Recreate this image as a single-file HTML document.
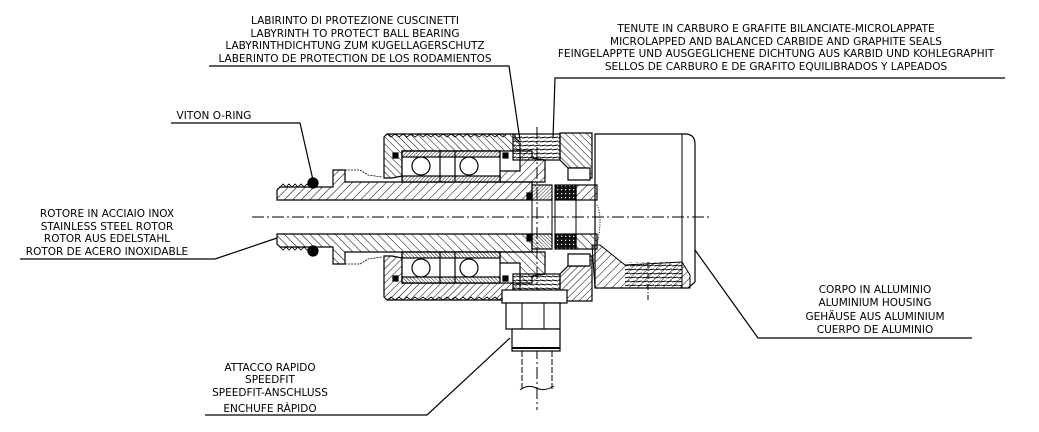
<!DOCTYPE html>
<html><head><meta charset="utf-8"><style>
html,body{margin:0;padding:0;background:#fff;}
svg{display:block;}
text{font-family:"DejaVu Sans","Liberation Sans",sans-serif;font-size:10.5px;fill:#000;text-anchor:middle;}
</style></head><body>
<svg width="1039" height="432" viewBox="0 0 1039 432" xmlns="http://www.w3.org/2000/svg">
<defs>
<pattern id="h" width="6" height="6" patternUnits="userSpaceOnUse" patternTransform="rotate(45)">
<line x1="0" y1="0" x2="0" y2="6" stroke="#000" stroke-width="1"/></pattern>
<pattern id="h2" width="5" height="5" patternUnits="userSpaceOnUse" patternTransform="rotate(-45)">
<line x1="0" y1="0" x2="0" y2="5" stroke="#000" stroke-width="1"/></pattern>
<pattern id="hd" width="2.5" height="2.5" patternUnits="userSpaceOnUse" patternTransform="rotate(45)">
<line x1="0" y1="0" x2="0" y2="2.5" stroke="#000" stroke-width="0.9"/></pattern>
<pattern id="gr" width="4" height="4" patternUnits="userSpaceOnUse">
<rect width="4" height="4" fill="#111"/><rect x="1" y="1" width="1.2" height="1.2" fill="#fff"/></pattern>
<pattern id="th" width="6" height="4" patternUnits="userSpaceOnUse">
<line x1="0" y1="2" x2="6" y2="1" stroke="#000" stroke-width="0.9"/></pattern>
<g id="half" stroke="#000" stroke-width="1.2">
 <path d="M277,200 L277,190 L280,187 L333,187 L333,170 L345,170 L345,182 L532,182 L532,200 Z" fill="url(#h)"/>
 <path d="M280,187 l3,-3 l3,3 l3,-3 l3,3 l3,-3 l3,3 l3,-3 l3,3 l3,-3 l3,3" fill="none" stroke-width="0.8"/>
 <circle cx="313" cy="183" r="5" fill="#000"/>
 <path d="M345,170 L360,170 L368,175 L382,177" fill="none" stroke-dasharray="2,1" stroke-width="0.8"/>
 <path d="M384,137 L387,134 L515,134 L515,138 L520,142 L520,151 L402,151 L402,176 L392,178 L384,178 Z" fill="url(#h2)"/>
 <path d="M387,134 l4,3 l4,-3 l4,3 l4,-3 l4,3 l4,-3 l4,3 l4,-3 l4,3 l4,-3 l4,3 l4,-3 l4,3 l4,-3 l4,3 l4,-3 l4,3 l4,-3 l4,3 l4,-3 l4,3 l4,-3 l4,3 l4,-3 l4,3 l4,-3 l4,3 l4,-3 l4,3 l4,-3" fill="none" stroke-width="0.8"/>
 <rect x="513" y="134" width="47" height="26" fill="url(#th)"/>
 <path d="M560,133 L592,133 L592,178 L585,178 L585,168 L568,168 L560,160 Z" fill="url(#h2)"/>
 <path d="M520,151 L532,151 L532,158 L545,160 L545,182 L500,182 L500,171 L520,171 Z" fill="url(#h)"/>
 <rect x="402" y="151" width="98" height="31" fill="#fff"/>
 <rect x="402" y="151" width="98" height="6" fill="url(#hd)"/>
 <rect x="402" y="176" width="98" height="6" fill="url(#hd)"/>
 <line x1="440" y1="151" x2="440" y2="182"/><line x1="455" y1="151" x2="455" y2="182"/>
 <circle cx="421" cy="166" r="9" fill="#fff"/><circle cx="469" cy="166" r="9" fill="#fff"/>
 <rect x="393" y="153" width="5" height="5" fill="#000"/><rect x="503" y="153" width="5" height="5" fill="#000"/>
 <rect x="532" y="185" width="20" height="15" fill="url(#hd)"/>
 <rect x="555" y="185" width="21" height="15" fill="url(#gr)"/>
 <rect x="576" y="185" width="21" height="15" fill="url(#h)"/>
 <rect x="527" y="193" width="5" height="6" fill="#000"/>
 <path d="M568,168 L590,168 L590,180 L568,180 Z" fill="#fff"/>
</g>
</defs>

<path d="M595,134 L685,134 Q695,134 695,144 L695,282 L688,288 L595,288 Z" fill="#fff" stroke="#000" stroke-width="1.2"/>
<line x1="682" y1="134" x2="682" y2="288" stroke="#000" stroke-width="1"/>
<path d="M592,245 L600,245 L625,265 L682,262 L690,275 L690,288 L595,288 Z" fill="url(#h)" stroke="#000"/>
<rect x="625" y="262" width="57" height="24" fill="url(#th)"/>
<path d="M597,205 Q603,217 597,245" fill="none" stroke="#000" stroke-dasharray="1,1.5"/>
<line x1="648" y1="262" x2="648" y2="300" stroke="#000" stroke-dasharray="6,2,1,2"/>

<use href="#half"/>
<use href="#half" transform="translate(0,434) scale(1,-1)"/>

<line x1="532" y1="200" x2="532" y2="234" stroke="#000"/>
<line x1="552" y1="200" x2="552" y2="234" stroke="#000"/>
<line x1="555" y1="200" x2="555" y2="234" stroke="#000"/>
<line x1="576" y1="200" x2="576" y2="234" stroke="#000"/>

<line x1="252" y1="217" x2="710" y2="217" stroke="#000" stroke-dasharray="12,3,2,3"/>
<line x1="537" y1="127" x2="537" y2="410" stroke="#000" stroke-dasharray="12,3,2,3"/>

<rect x="502" y="290" width="65" height="13" fill="#fff" stroke="#000" stroke-width="1.2"/>
<rect x="506" y="303" width="54" height="26" fill="#fff" stroke="#000" stroke-width="1.2"/>
<line x1="522" y1="303" x2="522" y2="329" stroke="#000"/><line x1="544" y1="303" x2="544" y2="329" stroke="#000"/>
<rect x="512" y="329" width="48" height="22" fill="#fff" stroke="#000" stroke-width="1.2"/>
<line x1="512" y1="348" x2="560" y2="348" stroke="#000" stroke-width="2"/>
<line x1="522" y1="351" x2="522" y2="390" stroke="#000" stroke-dasharray="6,2"/>
<line x1="552" y1="351" x2="552" y2="390" stroke="#000" stroke-dasharray="6,2"/>
<path d="M520,390 q8,-6 16,-2 q8,4 18,-2" fill="none" stroke="#000"/>

<g fill="none" stroke="#000" stroke-width="1.2">
<polyline points="209,66 509,66 520,140"/>
<polyline points="1005,78 555,78 553,138"/>
<polyline points="171,123 300,123 313,180"/>
<polyline points="20,259 215,259 277,238"/>
<polyline points="205,415 427,415 510,338"/>
<polyline points="972,338 758,338 695,250"/>
</g>

<text x="355" y="24">LABIRINTO DI PROTEZIONE CUSCINETTI</text>
<text x="355" y="37">LABYRINTH TO PROTECT BALL BEARING</text>
<text x="355" y="49">LABYRINTHDICHTUNG ZUM KUGELLAGERSCHUTZ</text>
<text x="355" y="62">LABERINTO DE PROTECTION DE LOS RODAMIENTOS</text>

<text x="776" y="32">TENUTE IN CARBURO E GRAFITE BILANCIATE-MICROLAPPATE</text>
<text x="776" y="45">MICROLAPPED AND BALANCED CARBIDE AND GRAPHITE SEALS</text>
<text x="776" y="57">FEINGELAPPTE UND AUSGEGLICHENE DICHTUNG AUS KARBID UND KOHLEGRAPHIT</text>
<text x="776" y="70">SELLOS DE CARBURO E DE GRAFITO EQUILIBRADOS Y LAPEADOS</text>

<text x="214" y="119">VITON O-RING</text>

<text x="107" y="217">ROTORE IN ACCIAIO INOX</text>
<text x="107" y="230">STAINLESS STEEL ROTOR</text>
<text x="107" y="242">ROTOR AUS EDELSTAHL</text>
<text x="107" y="255">ROTOR DE ACERO INOXIDABLE</text>

<text x="270" y="371">ATTACCO RAPIDO</text>
<text x="270" y="383">SPEEDFIT</text>
<text x="270" y="396">SPEEDFIT-ANSCHLUSS</text>
<text x="270" y="412">ENCHUFE RÀPIDO</text>

<text x="875" y="293">CORPO IN ALLUMINIO</text>
<text x="875" y="306">ALUMINIUM HOUSING</text>
<text x="875" y="320">GEHÄUSE AUS ALUMINIUM</text>
<text x="875" y="333">CUERPO DE ALUMINIO</text>
</svg>
</body></html>
